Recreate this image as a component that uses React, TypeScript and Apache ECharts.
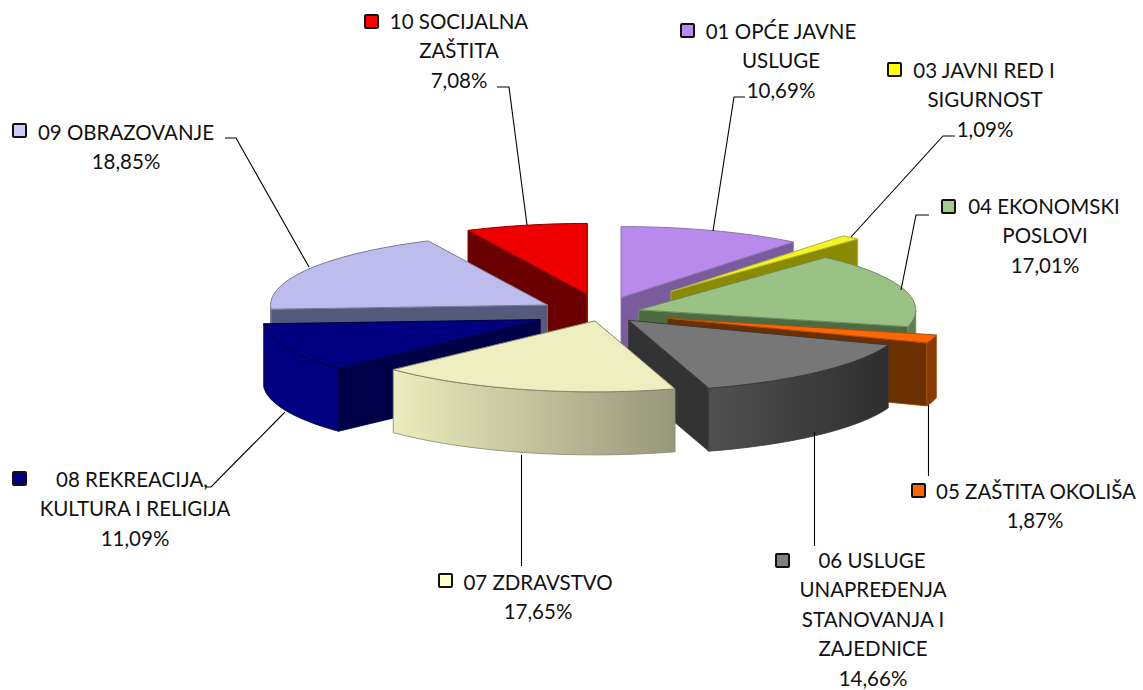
import React, { useEffect, useRef } from "react";
import * as echarts from "echarts";

const categories = [
  ["01 OPĆE JAVNE", "USLUGE"],
  ["03 JAVNI RED I", "SIGURNOST"],
  ["04 EKONOMSKI", "POSLOVI"],
  ["05 ZAŠTITA OKOLIŠA"],
  ["06 USLUGE", "UNAPREĐENJA", "STANOVANJA I", "ZAJEDNICE"],
  ["07 ZDRAVSTVO"],
  ["08 REKREACIJA,", "KULTURA I RELIGIJA"],
  ["09 OBRAZOVANJE"],
  ["10 SOCIJALNA", "ZAŠTITA"],
];
const shares = [10.69, 1.09, 17.01, 1.87, 14.66, 17.65, 11.09, 18.85, 7.08];
const explosion = [0.23, 0.4, 0.15, 0.25, 0.14, 0.1, 0.235, 0.22, 0.21];
const apexNudge = [[0, 0], [-1, 0], [-1, 0], [1, 0], [2, 0], [2, 1], [0, 0], [0, 0], [0, -4]];
const drawOrder = [8, 7, 6, 0, 1, 2, 3, 4, 5];

const topColors = ["#b98aec", "#f4f420", "#9bc285", "#ff6600", "#777777", "#eeeec0", "#000080", "#bcbdec", "#ee0000"];
const keyColors = ["#bb8af0", "#ffff00", "#a5cc8c", "#ff6600", "#808080", "#ffffcc", "#000080", "#ccccff", "#ff0000"];
const faceColors = ["#7a5b9e", "#8a8a00", "#4d6b40", "#6b2f00", "#333333", "#a0a080", "#000048", "#555a7a", "#6b0000"];
const rimColors: (string | [string, string])[] = [
  "#7a5b9e", "#8a8a00", "#5f7f50", "#8a3a00", ["#505050", "#2e2e2e"], ["#ececbe", "#97977a"], "#000080", "#555a7a", "#6b0000",
];
const edgeColors = ["#8a78a8", "#b0b040", "#6f8a62", "#a05010", "#3a3a3a", "#85856c", "#000040", "#7a7a98", "#900000"];

const keyBoxes = [[680, 23], [887, 62], [941, 199], [911, 483], [775, 553], [438, 573], [12, 471], [12, 123], [364, 14]];
const labelCenters = [781, 985, 1045, 1035, 873, 538, 135, 126, 459];
const labelTops = [31, 70, 206, 491, 560, 582, 479, 132, 21];
const firstLineCenters = [781, 984, 1044, 1036, 872, 538, 132, 126, 459];
const leaders = [
  [[745, 97], [734, 97], [713, 231]],
  [[955, 136], [943, 136], [851, 237]],
  [[929, 215], [916, 215], [901, 290]],
  [[928.5, 476], [928.5, 405]],
  [[814.5, 546], [814.5, 432]],
  [[521.5, 566], [521.5, 455]],
  [[205, 487], [211, 487], [285, 412]],
  [[225, 138], [236, 138], [309, 267]],
  [[497, 87], [509, 87], [527, 225]],
];

const CX = 600;
const CY = 313;
const RX = 277;
const RY = 71;
const DEPTH = 63;
const FONT = "Lato, Carlito, sans-serif";
const LINE_H = 29.4;

const total = shares.reduce((a, b) => a + b, 0);
const rad = (d: number) => (d * Math.PI) / 180;
const rim = (a: number[], deg: number, dy = 0) => [a[0] + RX * Math.sin(rad(deg)), a[1] - RY * Math.cos(rad(deg)) + dy];
const arc = (a: number[], from: number, to: number, dy = 0) => {
  const pts: number[][] = [];
  const n = Math.max(2, Math.ceil(Math.abs(to - from) / 2));
  for (let k = 0; k <= n; k++) pts.push(rim(a, from + ((to - from) * k) / n, dy));
  return pts;
};
const bounds: number[][] = [];
shares.reduce((acc, v) => {
  const next = acc + (v / total) * 360;
  bounds.push([acc, next]);
  return next;
}, 0);

function sideFill(c: string | [string, string]) {
  if (typeof c === "string") return c;
  return new echarts.graphic.LinearGradient(0, 0, 1, 0, [
    { offset: 0, color: c[0] },
    { offset: 1, color: c[1] },
  ]);
}

function renderSlice(_params: any, api: any) {
  const i = api.value(0);
  const [s, e] = bounds[i];
  const mid = (s + e) / 2;
  const ex = explosion[i];
  const apex = [
    CX + ex * RX * Math.sin(rad(mid)) + apexNudge[i][0],
    CY - ex * RY * Math.cos(rad(mid)) + apexNudge[i][1],
  ];
  const apexLow = [apex[0], apex[1] + DEPTH];
  const children: any[] = [];
  const poly = (points: number[][], fill: any, stroke: string, lw = 0.8) =>
    children.push({ type: "polygon", shape: { points }, style: { fill, stroke, lineWidth: lw } });

  const face = (deg: number) => {
    const r = rim(apex, deg);
    poly([apex, r, [r[0], r[1] + DEPTH], apexLow], faceColors[i], edgeColors[i]);
  };
  if (Math.sin(rad(s)) < 0) face(s);
  if (Math.sin(rad(e)) > 0) face(e);
  const a0 = Math.max(s, 90);
  const a1 = Math.min(e, 270);
  if (a1 > a0) {
    const top = arc(apex, a0, a1);
    const low = arc(apex, a1, a0, DEPTH);
    poly([...top, ...low], sideFill(rimColors[i]), edgeColors[i]);
  }
  poly([apex, ...arc(apex, s, e)], topColors[i], edgeColors[i], 1);
  return { type: "group", children };
}

function buildGraphics() {
  const els: any[] = [];
  shares.forEach((v, i) => {
    els.push({
      type: "polyline",
      z: 10,
      shape: { points: leaders[i] },
      style: { fill: "none", stroke: "#000", lineWidth: 1.1 },
    });
    els.push({
      type: "rect",
      z: 11,
      shape: { x: keyBoxes[i][0] + 1, y: keyBoxes[i][1] + 1, width: 13, height: 13, r: 1 },
      style: { fill: keyColors[i], stroke: "#111", lineWidth: 2 },
    });
    const lines = [...categories[i], v.toFixed(2).replace(".", ",") + "%"];
    lines.forEach((t, k) => {
      els.push({
        type: "text",
        z: 12,
        x: k === 0 ? firstLineCenters[i] : labelCenters[i],
        y: labelTops[i] + k * LINE_H,
        style: {
          text: t,
          fill: "#111",
          font: `20.5px ${FONT}`,
          textAlign: "center",
          textVerticalAlign: "middle",
        },
      });
    });
  });
  return els;
}

export default function App() {
  const ref = useRef<HTMLDivElement>(null);
  useEffect(() => {
    document.body.style.margin = "0";
    const chart = echarts.init(ref.current!, null, { renderer: "svg" });
    chart.setOption({
      animation: false,
      backgroundColor: "#ffffff",
      graphic: buildGraphics(),
      series: [
        {
          type: "custom",
          coordinateSystem: "none",
          silent: true,
          renderItem: renderSlice,
          data: drawOrder.map((i) => [i, shares[i]]),
        },
      ],
    });
    return () => chart.dispose();
  }, []);
  return <div ref={ref} style={{ width: 1143, height: 690 }} />;
}
